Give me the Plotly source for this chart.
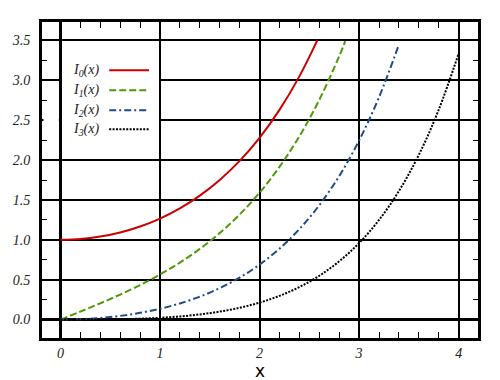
import plotly.graph_objects as go

# ---- data ----
x_i0 = [0, 0.2, 0.4, 0.6, 0.8, 1.0, 1.2, 1.4, 1.6, 1.8, 2.0, 2.2, 2.4, 2.58]
y_i0 = [1.0, 1.0100, 1.0404, 1.0920, 1.1665, 1.2661, 1.3937, 1.5534, 1.7500,
        1.9896, 2.2796, 2.6292, 3.0493, 3.50]

x_i1 = [0, 0.2, 0.4, 0.6, 0.8, 1.0, 1.2, 1.4, 1.6, 1.8, 2.0, 2.2, 2.4, 2.6, 2.8, 2.86]
y_i1 = [0.0, 0.1005, 0.2040, 0.3137, 0.4329, 0.5652, 0.7148, 0.8861, 1.0848,
        1.3172, 1.5906, 1.9141, 2.2981, 2.7554, 3.3011, 3.49]

x_i2 = [0, 0.2, 0.4, 0.6, 0.8, 1.0, 1.2, 1.4, 1.6, 1.8, 2.0, 2.2, 2.4, 2.6, 2.8,
        3.0, 3.2, 3.4]
y_i2 = [0.0, 0.0050, 0.0203, 0.0464, 0.0844, 0.1357, 0.2026, 0.2876, 0.3940,
        0.5260, 0.6889, 0.8891, 1.1342, 1.4337, 1.7994, 2.2452, 2.7883, 3.4494]

x_i3 = [0, 0.2, 0.4, 0.6, 0.8, 1.0, 1.2, 1.4, 1.6, 1.8, 2.0, 2.2, 2.4, 2.6, 2.8,
        3.0, 3.2, 3.4, 3.6, 3.8, 4.0]
y_i3 = [0.0, 0.0002, 0.0013, 0.0046, 0.0111, 0.0222, 0.0394, 0.0645, 0.0999,
        0.1482, 0.2127, 0.2976, 0.4079, 0.5496, 0.7305, 0.9598, 1.2489, 1.6119,
        2.0661, 2.6326, 3.3373]

names = ["I<sub>0</sub>(x)", "I<sub>1</sub>(x)", "I<sub>2</sub>(x)", "I<sub>3</sub>(x)"]
colors = ["#cc0000", "#4e9a06", "#204a87", "#000000"]
dashes = ["solid", "7px,3px", "7px,3px,2px,3px", "2px,1.4px"]

x_ticks = [0, 1, 2, 3, 4]
y_ticks = [0.0, 0.5, 1.0, 1.5, 2.0, 2.5, 3.0, 3.5]

fig = go.Figure()
series = [(x_i0, y_i0), (x_i1, y_i1), (x_i2, y_i2), (x_i3, y_i3)]
for (xs, ys), nm, c, d in zip(series, names, colors, dashes):
    fig.add_trace(go.Scatter(x=xs, y=ys, mode="lines", name=nm,
                             line=dict(color=c, width=2, dash=d, shape="spline"),
                             showlegend=False))

serif = "Liberation Serif"
axis_common = dict(showline=True, linecolor="black", linewidth=3, mirror="ticks",
                   showgrid=True, gridcolor="black", gridwidth=1.5,
                   zeroline=True, zerolinecolor="black", zerolinewidth=3,
                   ticks="inside", ticklen=6, tickcolor="black", tickwidth=1.2,
                   automargin=False,
                   tickfont=dict(family=serif, size=14, color="#222", style="italic"))

fig.update_xaxes(range=[-0.185, 4.194], tickvals=x_ticks, ticktext=[str(v) for v in x_ticks],
                 minor=dict(dtick=0.2, ticks="inside", ticklen=6, tickcolor="black",
                            tickwidth=1.2, showgrid=False),
                 **axis_common)
fig.update_yaxes(range=[-0.231, 3.731], tickvals=y_ticks, ticktext=[f"{v:.1f}" for v in y_ticks],
                 minor=dict(dtick=0.25, ticks="inside", ticklen=5, tickcolor="black",
                            tickwidth=1.2, showgrid=False),
                 ticklabelstandoff=6,
                 **axis_common)

# axis title
fig.add_annotation(x=2, y=-0.103, xref="x", yref="paper", text="x", showarrow=False,
                   xanchor="center", yanchor="middle", borderpad=0,
                   font=dict(family="DejaVu Sans", size=17, color="black"))

# legend background (covers grid lines)
fig.add_shape(type="rect", xref="x", yref="y", x0=0.016, x1=0.99, y0=2.15, y1=3.3,
              fillcolor="white", line=dict(width=0), layer="above")
fig.add_shape(type="rect", xref="x", yref="y", x0=-0.17, x1=-0.016, y0=2.47, y1=2.53,
              fillcolor="white", line=dict(width=0), layer="above")

leg_y = [3.125, 2.875, 2.625, 2.385]
leg_text = ["<i>I</i><sub><i>0</i></sub><i>(x)</i>", "<i>I</i><sub><i>1</i></sub><i>(x)</i>",
            "<i>I</i><sub><i>2</i></sub><i>(x)</i>", "<i>I</i><sub><i>3</i></sub><i>(x)</i>"]
for yy, t, c, d in zip(leg_y, leg_text, colors, dashes):
    fig.add_annotation(x=0.11, y=yy, xref="x", yref="y", text=t, showarrow=False,
                       xanchor="left", yanchor="middle",
                       font=dict(family=serif, size=14, color="#222"))
    fig.add_shape(type="line", xref="x", yref="y", x0=0.49, x1=0.89, y0=yy, y1=yy,
                  line=dict(color=c, width=2, dash=d), layer="above")

fig.update_layout(width=500, height=380, margin=dict(l=41.5, r=21.5, t=21.5, b=41.5),
                  plot_bgcolor="white", paper_bgcolor="white", showlegend=False)

fig.write_html("out.html", config={"displayModeBar": False},
               post_script="document.body.style.margin='0';document.body.style.overflow='hidden';")
